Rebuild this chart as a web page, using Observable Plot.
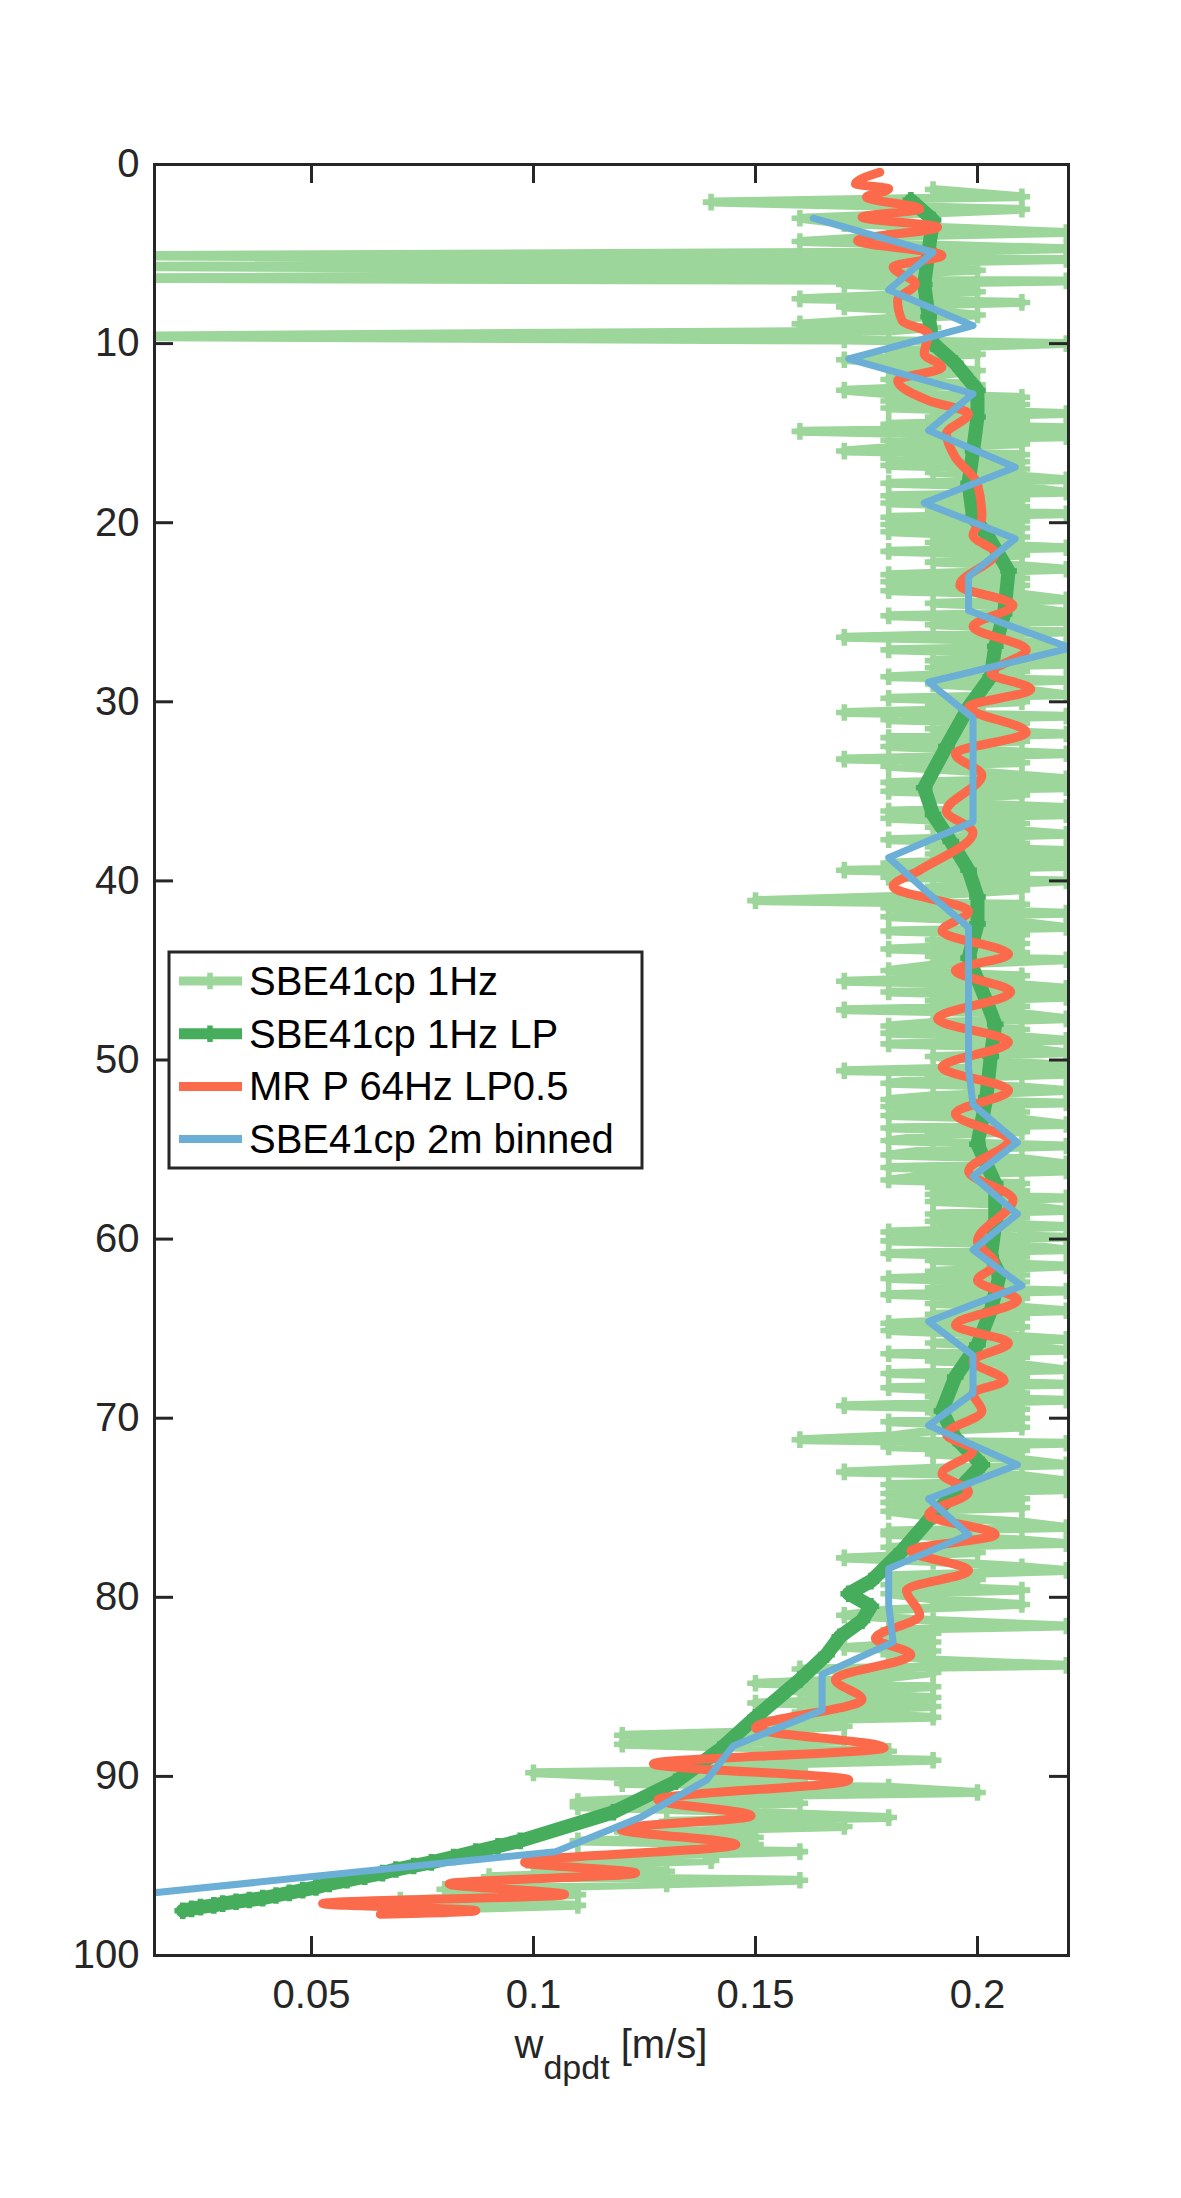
<!DOCTYPE html>
<html>
<head>
<meta charset="utf-8">
<script src="https://cdn.jsdelivr.net/npm/d3@7"></script>
<script src="https://cdn.jsdelivr.net/npm/@observablehq/plot@0.6"></script>
<style>
  html, body { margin: 0; padding: 0; background: #fff; }
  #chart { width: 1181px; }
</style>
</head>
<body>
<div id="chart"></div>
<script>
// ---------- data: [depth (dbar), w_dpdt (m/s)] ----------
const sbe1Hz = [
 [1.4,0.19],[1.8,0.21],[2.1,0.14],[2.5,0.21],[2.8,0.18],[3.0,0.16],[3.3,0.17],[3.5,0.19],[3.8,0.22],[4.0,0.18],
 [4.3,0.16],[4.5,0.19],[4.7,0.22],[4.9,0.18],[5.1,0.00],[5.3,0.22],[5.5,0.18],[5.7,0.00],[5.9,0.20],[6.1,0.18],
 [6.35,0.00],[6.5,0.22],[6.7,0.17],[6.9,0.19],[7.1,0.20],[7.3,0.18],[7.5,0.16],[7.7,0.21],[7.95,0.17],[8.2,0.19],
 [8.4,0.20],[8.6,0.18],[8.9,0.16],[9.1,0.19],[9.3,0.18],[9.6,0.00],[9.8,0.17],[10.0,0.22],[10.2,0.19],[10.4,0.18],
 [10.6,0.20],[10.9,0.17],[11.1,0.19],[11.3,0.18],[11.5,0.20],[11.8,0.19],[12.0,0.18],[12.3,0.20],[12.6,0.17],[12.8,0.18],
 [13.0,0.21],[13.2,0.18],[13.4,0.21],[13.6,0.18],[13.9,0.22],[14.1,0.19],[14.3,0.21],[14.5,0.18],[14.7,0.22],[14.9,0.16],
 [15.2,0.22],[15.4,0.18],[15.6,0.21],[15.8,0.18],[16.0,0.17],[16.2,0.21],[16.4,0.18],[16.6,0.21],[16.8,0.18],[17.0,0.21],
 [17.2,0.19],[17.4,0.21],[17.6,0.22],[17.8,0.18],[18.0,0.21],[18.3,0.22],[18.5,0.18],[18.7,0.21],[18.9,0.18],[19.1,0.21],
 [19.3,0.19],[19.5,0.22],[19.7,0.18],[19.9,0.21],[20.1,0.18],[20.3,0.21],[20.5,0.18],[20.8,0.21],[21.1,0.19],[21.4,0.22],
 [21.6,0.18],[21.8,0.21],[22.0,0.20],[22.2,0.19],[22.4,0.21],[22.6,0.22],[22.9,0.18],[23.1,0.21],[23.3,0.18],[23.5,0.21],
 [23.8,0.18],[24.0,0.21],[24.3,0.22],[24.5,0.19],[24.7,0.21],[25.0,0.22],[25.2,0.18],[25.5,0.22],[25.7,0.19],[25.9,0.21],
 [26.1,0.22],[26.4,0.17],[26.6,0.21],[26.9,0.22],[27.1,0.18],[27.3,0.21],[27.5,0.22],[27.7,0.19],[27.9,0.22],[28.1,0.19],
 [28.3,0.21],[28.6,0.18],[28.8,0.22],[29.0,0.19],[29.3,0.21],[29.6,0.22],[29.8,0.18],[30.0,0.21],[30.2,0.19],[30.4,0.20],
 [30.6,0.17],[30.8,0.22],[31.0,0.18],[31.2,0.21],[31.5,0.19],[31.8,0.22],[32.0,0.18],[32.2,0.21],[32.5,0.18],[32.7,0.20],
 [32.9,0.22],[33.2,0.17],[33.4,0.21],[33.6,0.18],[33.9,0.20],[34.1,0.21],[34.3,0.22],[34.5,0.18],[34.8,0.22],[35.0,0.18],
 [35.2,0.21],[35.4,0.19],[35.7,0.20],[35.9,0.22],[36.1,0.18],[36.3,0.22],[36.5,0.18],[36.8,0.21],[37.0,0.19],[37.2,0.21],
 [37.4,0.22],[37.7,0.18],[37.9,0.21],[38.1,0.19],[38.3,0.22],[38.5,0.19],[38.7,0.22],[39.0,0.18],[39.2,0.22],[39.4,0.17],
 [39.6,0.21],[39.8,0.18],[40.0,0.22],[40.3,0.19],[40.5,0.21],[40.8,0.19],[41.1,0.15],[41.3,0.21],[41.5,0.18],[41.8,0.22],
 [42.0,0.18],[42.3,0.21],[42.6,0.22],[42.8,0.18],[43.0,0.21],[43.3,0.19],[43.5,0.21],[43.8,0.18],[44.0,0.21],[44.2,0.19],
 [44.4,0.22],[44.7,0.19],[45.0,0.18],[45.3,0.21],[45.6,0.17],[45.8,0.21],[46.0,0.22],[46.2,0.18],[46.5,0.22],[46.7,0.19],
 [47.0,0.21],[47.2,0.17],[47.4,0.21],[47.7,0.22],[47.9,0.19],[48.1,0.18],[48.3,0.21],[48.5,0.18],[48.7,0.21],[48.9,0.22],
 [49.1,0.18],[49.3,0.21],[49.6,0.22],[49.8,0.19],[50.0,0.20],[50.3,0.22],[50.6,0.17],[50.8,0.22],[51.0,0.19],[51.3,0.18],
 [51.5,0.21],[51.7,0.22],[52.0,0.19],[52.2,0.18],[52.4,0.22],[52.6,0.18],[52.9,0.21],[53.1,0.18],[53.3,0.21],[53.6,0.22],
 [53.8,0.18],[54.0,0.21],[54.2,0.19],[54.5,0.18],[54.8,0.22],[55.0,0.19],[55.3,0.18],[55.5,0.21],[55.8,0.22],[56.0,0.18],
 [56.2,0.22],[56.4,0.19],[56.7,0.18],[56.9,0.21],[57.1,0.19],[57.3,0.21],[57.5,0.19],[57.7,0.22],[57.9,0.19],[58.1,0.21],
 [58.4,0.22],[58.6,0.19],[58.8,0.21],[59.0,0.19],[59.3,0.22],[59.6,0.18],[59.9,0.22],[60.1,0.18],[60.3,0.21],[60.6,0.22],
 [60.8,0.18],[61.0,0.21],[61.2,0.19],[61.5,0.22],[61.8,0.19],[62.0,0.21],[62.2,0.18],[62.4,0.21],[62.7,0.19],[62.9,0.22],
 [63.1,0.18],[63.3,0.21],[63.6,0.19],[63.8,0.21],[64.0,0.22],[64.2,0.19],[64.4,0.21],[64.7,0.18],[64.9,0.21],[65.1,0.18],
 [65.3,0.20],[65.6,0.22],[65.8,0.19],[66.0,0.21],[66.2,0.22],[66.4,0.18],[66.6,0.21],[66.8,0.19],[67.0,0.21],[67.3,0.22],
 [67.5,0.18],[67.7,0.21],[67.9,0.19],[68.1,0.22],[68.3,0.18],[68.6,0.21],[68.8,0.19],[69.0,0.22],[69.3,0.17],[69.5,0.21],
 [69.7,0.19],[70.0,0.21],[70.2,0.18],[70.5,0.21],[70.7,0.19],[71.0,0.18],[71.2,0.16],[71.4,0.22],[71.6,0.18],[71.8,0.21],
 [72.0,0.19],[72.3,0.21],[72.6,0.22],[72.8,0.19],[73.0,0.17],[73.2,0.21],[73.5,0.22],[73.7,0.18],[74.0,0.22],[74.2,0.18],
 [74.5,0.21],[74.7,0.18],[75.0,0.21],[75.2,0.18],[75.5,0.19],[75.8,0.21],[76.1,0.22],[76.3,0.18],[76.5,0.18],[76.8,0.21],
 [77.0,0.22],[77.2,0.18],[77.5,0.20],[77.8,0.17],[78.0,0.19],[78.3,0.21],[78.5,0.22],[78.8,0.18],[79.0,0.20],[79.3,0.18],
 [79.6,0.21],[79.8,0.18],[80.1,0.19],[80.4,0.21],[80.7,0.18],[81.0,0.17],[81.3,0.19],[81.6,0.22],[81.8,0.18],[82.0,0.19],
 [82.3,0.18],[82.5,0.19],[82.8,0.17],[83.0,0.19],[83.2,0.18],[83.5,0.19],[83.8,0.22],[84.0,0.16],[84.2,0.19],[84.5,0.18],
 [84.8,0.15],[85.0,0.19],[85.3,0.16],[85.6,0.19],[85.9,0.15],[86.1,0.19],[86.4,0.16],[86.7,0.19],[86.9,0.15],[87.2,0.17],
 [87.5,0.15],[87.7,0.12],[88.0,0.17],[88.2,0.12],[88.6,0.18],[88.9,0.15],[89.1,0.19],[89.4,0.14],[89.6,0.16],[89.8,0.10],
 [90.0,0.12],[90.2,0.16],[90.4,0.12],[90.6,0.18],[90.9,0.20],[91.1,0.14],[91.4,0.11],[91.5,0.16],[91.7,0.11],[92.0,0.15],
 [92.3,0.18],[92.5,0.13],[92.8,0.17],[93.1,0.12],[93.4,0.15],[93.6,0.11],[93.8,0.15],[94.1,0.13],[94.2,0.16],[94.5,0.11],
 [94.7,0.14],[95.0,0.10],[95.3,0.13],[95.6,0.09],[95.8,0.16],[96.0,0.13],[96.3,0.08],[96.6,0.11],[96.9,0.07],[97.2,0.11],
 [97.4,0.08]
];

const sbe1HzLP = [
 [2.0,0.185],[3.1,0.190],[4.8,0.189],[6.7,0.188],[8.5,0.189],[10.0,0.190],[11.1,0.195],[12.6,0.200],[14.1,0.200],[16.0,0.199],
 [17.8,0.198],[19.7,0.199],[20.6,0.202],[22.7,0.207],[25.1,0.206],[26.9,0.204],[28.6,0.203],[30.3,0.198],[32.5,0.193],[34.8,0.188],
 [36.3,0.190],[37.8,0.194],[39.4,0.198],[40.9,0.200],[42.4,0.200],[44.3,0.198],[46.7,0.202],[48.0,0.204],[49.8,0.203],[52.1,0.202],
 [54.7,0.200],[56.9,0.204],[59.1,0.204],[61.0,0.203],[62.0,0.205],[64.0,0.203],[65.9,0.200],[67.7,0.195],[69.6,0.192],[71.1,0.195],
 [72.6,0.201],[73.9,0.196],[75.4,0.190],[77.4,0.183],[79.1,0.176],[79.8,0.171],[80.5,0.176],[81.3,0.174],[82.2,0.169],[83.2,0.166],
 [84.6,0.160],[86.7,0.150],[88.5,0.142],[90.3,0.132],[92.0,0.118],[93.6,0.097],[93.9,0.092],[94.2,0.087],[94.5,0.082],[94.8,0.077],
 [95.0,0.073],[95.2,0.069],[95.4,0.066],[95.6,0.062],[95.8,0.058],[96.0,0.054],[96.2,0.051],[96.35,0.048],[96.5,0.045],[96.65,0.042],
 [96.8,0.039],[96.9,0.036],[97.0,0.033],[97.1,0.030],[97.2,0.028],[97.3,0.025],[97.4,0.023],[97.5,0.021]
];

const mrP64HzLP05 = [
 [0.43,0.178],[1.08,0.1725],[1.36,0.180],[1.82,0.175],[2.48,0.187],[2.94,0.174],[3.50,0.191],[4.24,0.173],[5.08,0.192],[5.73,0.181],
 [6.66,0.186],[7.59,0.182],[8.71,0.183],[9.45,0.189],[10.57,0.188],[11.32,0.192],[12.06,0.182],[13.18,0.189],[13.92,0.198],[15.04,0.193],
 [16.34,0.195],[17.83,0.200],[19.69,0.201],[20.7,0.199],[21.7,0.204],[23.5,0.196],[24.6,0.208],[25.8,0.199],[27.1,0.211],[28.4,0.203],
 [29.3,0.212],[30.3,0.198],[31.7,0.211],[32.9,0.195],[34.1,0.201],[36.1,0.193],[37.3,0.199],[39.4,0.187],[40.3,0.181],[41.7,0.198],
 [42.8,0.192],[44.1,0.207],[45.0,0.195],[46.2,0.2075],[47.7,0.191],[49.0,0.207],[50.4,0.192],[51.7,0.207],[53.0,0.195],[54.5,0.207],
 [56.2,0.198],[57.8,0.208],[60.1,0.200],[61.4,0.204],[62.3,0.200],[63.4,0.209],[64.8,0.195],[65.8,0.207],[66.8,0.199],[67.9,0.206],
 [68.6,0.199],[69.6,0.201],[70.9,0.193],[71.8,0.199],[73.1,0.192],[74.1,0.198],[75.4,0.189],[76.5,0.204],[77.4,0.185],[78.5,0.198],
 [79.6,0.184],[81.0,0.187],[82.3,0.177],[83.2,0.185],[84.6,0.168],[85.7,0.174],[87.3,0.150],[88.4,0.179],[89.3,0.127],[90.2,0.171],
 [91.3,0.128],[92.2,0.149],[92.95,0.1196],[93.8,0.1456],[94.8,0.098],[95.4,0.123],[96.0,0.081],[96.6,0.107],[97.1,0.0525],[97.5,0.087],
 [97.7,0.0655]
];

const sbe2mBinned = [
 [3.0,0.163],[4.9,0.190],[7.0,0.180],[9.0,0.199],[10.85,0.171],[12.8,0.199],[14.85,0.189],[16.9,0.2085],[18.9,0.188],[20.9,0.2085],
 [23.0,0.198],[24.9,0.198],[27.0,0.221],[28.9,0.189],[30.9,0.199],[32.8,0.199],[34.8,0.199],[36.7,0.199],[38.7,0.180],[40.7,0.189],
 [42.6,0.198],[44.6,0.198],[46.6,0.198],[48.6,0.198],[50.5,0.198],[52.5,0.199],[54.6,0.209],[56.5,0.199],[58.6,0.209],[60.6,0.199],
 [62.6,0.210],[64.6,0.189],[66.5,0.199],[68.6,0.199],[70.4,0.189],[72.6,0.209],[74.5,0.189],[76.5,0.198],[78.4,0.180],[80.4,0.180],
 [82.5,0.181],[84.3,0.165],[86.3,0.165],[88.3,0.145],[90.2,0.139],[92.3,0.124],[94.2,0.105],[96.5,0.0146]
];

const seriesNames = ["SBE41cp 1Hz", "SBE41cp 1Hz LP", "MR P 64Hz LP0.5", "SBE41cp 2m binned"];
const xTicks = [0.05, 0.1, 0.15, 0.2];
const yTicks = [0, 10, 20, 30, 40, 50, 60, 70, 80, 90, 100];
const xDomain = [0.01464, 0.2205];
const yDomain = [0, 100];

// ---------- styling ----------
const C_LG = "#9dd69a", C_DG = "#46ad5c", C_RED = "#fb6a4a", C_BLUE = "#6baed6", C_AX = "#262626";
const W = 1181, H = 2198, mL = 154, mR = 113, mT = 164, mB = 243;
const frameW = W - mL - mR, frameH = H - mT - mB, tickLen = 19;

const toRows = arr => arr.map(([d, w]) => ({d, w}));
const hz = toRows(sbe1Hz), lp = toRows(sbe1HzLP), mr = toRows(mrP64HzLP05), bin = toRows(sbe2mBinned);

const svg = Plot.plot({
  width: W, height: H,
  marginLeft: mL, marginRight: mR, marginTop: mT, marginBottom: mB,
  style: {fontFamily: "'Liberation Sans', Arial, Helvetica, sans-serif", fontSize: "40px", color: C_AX, background: "#fff"},
  x: {domain: xDomain, label: null},
  y: {domain: yDomain, reverse: true, label: null},
  marks: [
    Plot.line(hz, {x: "w", y: "d", stroke: C_LG, strokeWidth: 9, strokeLinejoin: "round", clip: true}),
    Plot.dot(hz, {x: "w", y: "d", symbol: "cross", r: 7, fill: C_LG, stroke: "none", clip: true}),
    Plot.line(lp, {x: "w", y: "d", stroke: C_DG, strokeWidth: 14, strokeLinejoin: "round", clip: true}),
    Plot.dot(lp, {x: "w", y: "d", symbol: "cross", r: 7, fill: C_DG, stroke: "none", clip: true}),
    Plot.line(mr, {x: "w", y: "d", stroke: C_RED, strokeWidth: 9, curve: "monotone-y", strokeLinejoin: "round", clip: true}),
    Plot.line(bin, {x: "w", y: "d", stroke: C_BLUE, strokeWidth: 7, strokeLinejoin: "round", clip: true}),
    Plot.ruleX(xTicks, {x: d => d, insetTop: frameH - tickLen, stroke: C_AX, strokeWidth: 3}),
    Plot.ruleX(xTicks, {x: d => d, insetBottom: frameH - tickLen, stroke: C_AX, strokeWidth: 3}),
    Plot.ruleY(yTicks, {y: d => d, insetRight: frameW - tickLen, stroke: C_AX, strokeWidth: 3}),
    Plot.ruleY(yTicks, {y: d => d, insetLeft: frameW - tickLen, stroke: C_AX, strokeWidth: 3}),
    Plot.frame({stroke: C_AX, strokeWidth: 3}),
    Plot.axisX({ticks: xTicks, tickSize: 0, tickPadding: 24, tickFormat: d3.format("~g"), fill: C_AX}),
    Plot.axisY({ticks: yTicks, tickSize: 0, tickPadding: 15, tickFormat: d3.format("~g"), fill: C_AX})
  ]
});

const s = d3.select(svg);
// x axis label with subscript
const xl = s.append("text")
  .attr("x", mL + frameW / 2).attr("y", 2058)
  .attr("text-anchor", "middle").attr("fill", C_AX)
  .style("font-size", "40px");
xl.append("tspan").text("w");
xl.append("tspan").attr("dy", 21).style("font-size", "34px").text("dpdt");
xl.append("tspan").attr("dy", -21).text(" [m/s]");

// legend
const lg = s.append("g").attr("text-anchor", "start");
lg.append("rect").attr("x", 169).attr("y", 952).attr("width", 473).attr("height", 216)
  .attr("fill", "#fff").attr("stroke", C_AX).attr("stroke-width", 3);
const legendStyles = [
  {c: C_LG, w: 9, marker: true},
  {c: C_DG, w: 11, marker: true},
  {c: C_RED, w: 9, marker: false},
  {c: C_BLUE, w: 8, marker: false}
];
const crossPath = d3.symbol(d3.symbolCross, 7 * 7 * Math.PI)();
seriesNames.forEach((name, i) => {
  const cy = 981 + i * 52.7;
  const st = legendStyles[i];
  lg.append("line").attr("x1", 179).attr("x2", 242).attr("y1", cy).attr("y2", cy)
    .attr("stroke", st.c).attr("stroke-width", st.w);
  if (st.marker) lg.append("path").attr("d", crossPath).attr("transform", `translate(210,${cy})`).attr("fill", st.c);
  lg.append("text").attr("x", 249).attr("y", cy + 14).attr("fill", "#000")
    .attr("text-anchor", "start").style("font-size", "40px").text(name);
});

document.getElementById("chart").appendChild(svg);
</script>
</body>
</html>
